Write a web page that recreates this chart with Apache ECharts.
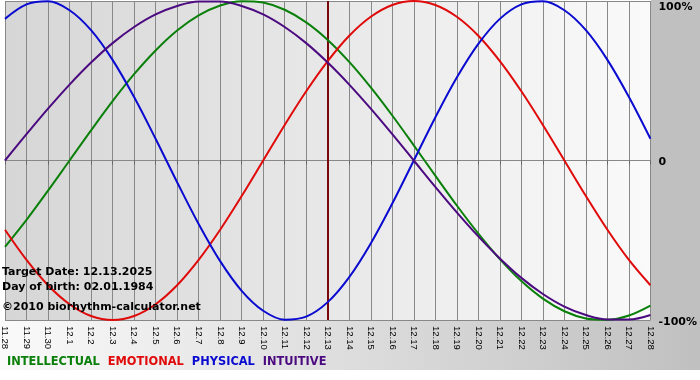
<!DOCTYPE html>
<html><head><meta charset="utf-8">
<script src="https://cdn.jsdelivr.net/npm/echarts@6/dist/echarts.min.js"></script>
<style>html,body{margin:0;padding:0;background:#fff}#c{width:700px;height:380px}</style>
</head><body><div id="c"></div>
<script>
const days = ['11.28','11.29','11.30','12.1','12.2','12.3','12.4','12.5','12.6','12.7','12.8','12.9','12.10','12.11','12.12','12.13','12.14','12.15','12.16','12.17','12.18','12.19','12.20','12.21','12.22','12.23','12.24','12.25','12.26','12.27','12.28'];
const intellectual = [-0.541,-0.372,-0.189,0,0.189,0.372,0.541,0.690,0.815,0.910,0.972,0.999,0.990,0.945,0.866,0.756,0.618,0.458,0.282,0.095,-0.095,-0.282,-0.458,-0.618,-0.756,-0.866,-0.945,-0.990,-0.999,-0.972,-0.910];
const emotional = [-0.434,-0.623,-0.782,-0.901,-0.975,-1.000,-0.975,-0.901,-0.782,-0.623,-0.434,-0.223,0,0.223,0.434,0.623,0.782,0.901,0.975,1.000,0.975,0.901,0.782,0.623,0.434,0.223,0,-0.223,-0.434,-0.623,-0.782];
const physical = [0.888,0.979,0.998,0.942,0.817,0.631,0.398,0.136,-0.136,-0.398,-0.631,-0.817,-0.942,-0.998,-0.979,-0.888,-0.731,-0.520,-0.270,0,0.270,0.520,0.731,0.888,0.979,0.998,0.942,0.817,0.631,0.398,0.136];
const intuitive = [0,0.165,0.325,0.476,0.614,0.736,0.837,0.916,0.969,0.997,0.997,0.969,0.916,0.837,0.736,0.614,0.476,0.325,0.165,0,-0.165,-0.325,-0.476,-0.614,-0.736,-0.837,-0.916,-0.969,-0.997,-0.997,-0.969];
const seriesNames = ['INTELLECTUAL','EMOTIONAL','PHYSICAL','INTUITIVE'];
const targetDay = '12.13';
const yTicks = [-1,0,1];
const yTickLabels = ['-100%','0','100%'];
const infoLines = ['Target Date: 12.13.2025','Day of birth: 02.01.1984','\u00A92010 biorhythm-calculator.net'];

const colors = ['#0a800a','#e00a0a','#0a0ad0','#4b0a80'];
const seriesData = [intellectual, emotional, physical, intuitive];
const FONT = '"DejaVu Sans", Verdana, sans-serif';

const chart = echarts.init(document.getElementById('c'), null, {renderer:'canvas'});
const infoTops = [267, 282, 302];
chart.setOption({
  animation: false,
  backgroundColor: '#ffffff',
  grid: {left: 1, right: 49, top: 1, bottom: 60, show: true, borderWidth: 0,
    backgroundColor: new echarts.graphic.LinearGradient(0,0,1,0,[{offset:0,color:'#d6d6d6'},{offset:1,color:'#fafafa'}])},
  legend: {left: -3, top: 352, icon: 'none', itemWidth: 0, itemHeight: 0, itemGap: 3, selectedMode: false,
    textStyle: {fontFamily: FONT, fontWeight: 'bold', fontSize: 11.4},
    data: seriesNames.map((n,i)=>({name: n, textStyle: {color: colors[i]}}))},
  xAxis: {type: 'category', data: days, boundaryGap: false,
    axisLine: {lineStyle: {color: '#888'}},
    axisTick: {show: true, length: 4, lineStyle: {color: '#666'}},
    splitLine: {show: true, lineStyle: {color: '#888', width: 1}},
    axisLabel: {rotate: -90, interval: 0, fontSize: 9.5, fontFamily: '"Liberation Sans", Arial, sans-serif', color: '#000', margin: 6}},
  yAxis: {type: 'value', min: -1, max: 1, interval: 1, position: 'right',
    axisLine: {show: false}, axisTick: {show: false},
    splitLine: {show: true, lineStyle: {color: '#888', width: 1}},
    axisLabel: {margin: 8, color: '#000', fontFamily: FONT, fontWeight: 'bold', fontSize: 11,
      formatter: v => { const t = yTickLabels[yTicks.indexOf(v)]; return v === 1 ? '{t|' + t + '}' : '{n|' + t + '}'; },
      rich: {t: {padding: [12,0,0,0], fontFamily: FONT, fontWeight: 'bold', fontSize: 11, color: '#000'},
             n: {padding: [4,0,0,0], fontFamily: FONT, fontWeight: 'bold', fontSize: 11, color: '#000'}}}},
  graphic: [
    {type: 'rect', z: -1, shape: {x: 0, y: 320, width: 700, height: 50},
      style: {fill: new echarts.graphic.LinearGradient(0,0,1,0,[{offset:0,color:'#fafafa'},{offset:1,color:'#c0c0c0'}])}},
    {type: 'rect', z: -1, shape: {x: 651, y: 0, width: 49, height: 321}, style: {fill: '#c0c0c0'}}
  ].concat(infoLines.map((t,i)=>({type: 'text', z: 10, left: 2, top: infoTops[i],
      style: {text: t, font: 'bold 11px ' + FONT, fill: '#000'}}))),
  series: seriesNames.map((n,i)=>({
    name: n, type: 'line', data: seriesData[i], smooth: 0.35, showSymbol: false, symbol: 'none',
    lineStyle: {color: colors[i], width: 2}, itemStyle: {color: colors[i]}, z: 3,
    markLine: i === 0 ? {symbol: 'none', silent: true, label: {show: false}, z: 2,
      lineStyle: {color: '#7a0a0a', width: 2, type: 'solid'}, data: [{xAxis: targetDay}]} : undefined
  }))
});
</script></body></html>
